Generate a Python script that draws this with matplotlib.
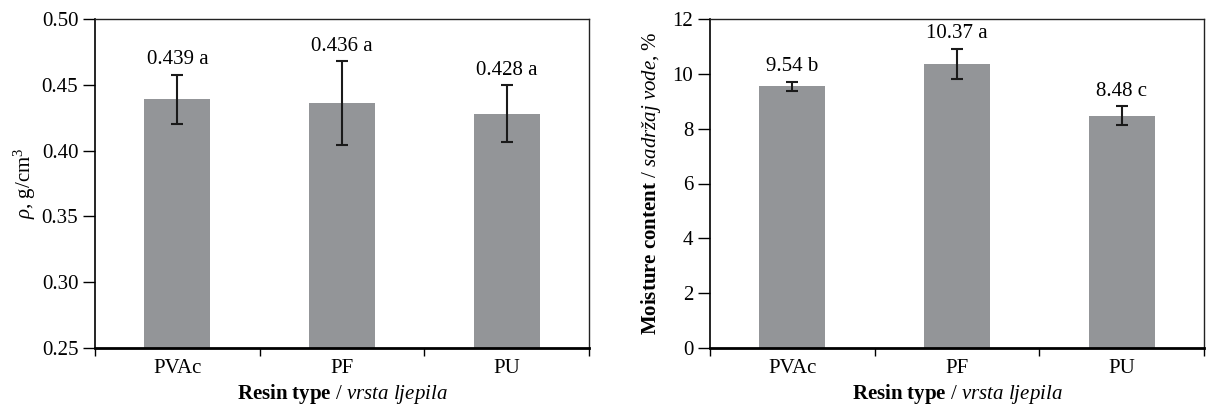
import matplotlib
matplotlib.use("Agg")
import matplotlib.pyplot as plt
import numpy as np

categories = ["PVAc", "PF", "PU"]
density = [0.439, 0.436, 0.428]
density_err = [0.0185, 0.0318, 0.0215]
density_labels = ["0.439 a", "0.436 a", "0.428 a"]
moisture = [9.54, 10.37, 8.48]
moisture_err = [0.17, 0.55, 0.33]
moisture_labels = ["9.54 b", "10.37 a", "8.48 c"]

plt.rcParams['font.family'] = ['Liberation Serif', 'DejaVu Serif']
plt.rcParams['mathtext.fontset'] = 'custom'
plt.rcParams['mathtext.rm'] = 'Liberation Serif'
plt.rcParams['mathtext.it'] = 'Liberation Serif:italic'
plt.rcParams['mathtext.bf'] = 'Liberation Serif:bold'

W, H = 1207, 412
fig = plt.figure(figsize=(W/100, H/100), dpi=100)
ax1 = fig.add_axes([95/W, 1-348/H, 494/W, 329/H])
ax2 = fig.add_axes([710/W, 1-348/H, 494/W, 329/H])

bar_color = '#939598'
fs = 15

def style(ax, ylim, yticks, fmt):
    x = np.arange(len(categories))
    ax.set_xlim(-0.5, len(categories)-0.5)
    ax.set_ylim(*ylim)
    ax.set_yticks(yticks)
    ax.set_yticklabels([fmt.format(v) for v in yticks], fontsize=fs)
    ax.set_xticks(x)
    ax.set_xticklabels(categories, fontsize=fs)
    ax.tick_params(axis='x', which='major', length=0, pad=8)
    ax.set_xticks(np.arange(-0.5, len(categories), 1.0), minor=True)
    ax.tick_params(axis='x', which='minor', length=6, width=1, direction='out')
    ax.tick_params(axis='y', length=9, width=1, direction='out', pad=3)
    for s in ['top', 'right']:
        ax.spines[s].set_linewidth(1.0)
        ax.spines[s].set_color('#222222')
    ax.spines['left'].set_linewidth(1.2)
    ax.spines['bottom'].set_linewidth(2.0)
    ax.set_xlabel(r"$\mathbf{Resin\ type}$ / $\mathit{vrsta\ ljepila}$", fontsize=fs, labelpad=3)

x = np.arange(len(categories))
ax1.bar(x, density, width=0.4, color=bar_color, zorder=2)
ax1.errorbar(x, density, yerr=density_err, fmt='none', ecolor='#1a1a1a',
             elinewidth=1.5, capsize=4, capthick=1.5, zorder=3)
for xi, v, e, lab in zip(x, density, density_err, density_labels):
    ax1.annotate(lab, (xi, v+e), xytext=(0, 4), textcoords='offset points',
                 ha='center', va='bottom', fontsize=fs)
style(ax1, (0.25, 0.50), [0.25, 0.30, 0.35, 0.40, 0.45, 0.50], "{:.2f}")
ax1.set_ylabel(r"$\mathit{\rho}$, g/cm$^3$", fontsize=fs, labelpad=3)

ax2.bar(x, moisture, width=0.4, color=bar_color, zorder=2)
ax2.errorbar(x, moisture, yerr=moisture_err, fmt='none', ecolor='#1a1a1a',
             elinewidth=1.5, capsize=4, capthick=1.5, zorder=3)
for xi, v, e, lab in zip(x, moisture, moisture_err, moisture_labels):
    ax2.annotate(lab, (xi, v+e), xytext=(0, 4), textcoords='offset points',
                 ha='center', va='bottom', fontsize=fs)
style(ax2, (0, 12), [0, 2, 4, 6, 8, 10, 12], "{:.0f}")
ax2.set_ylabel(r"$\mathbf{Moisture\ content}$ / $\mathit{sadržaj\ vode}$, %", fontsize=fs, labelpad=7)

fig.savefig("out.png", dpi=100)
